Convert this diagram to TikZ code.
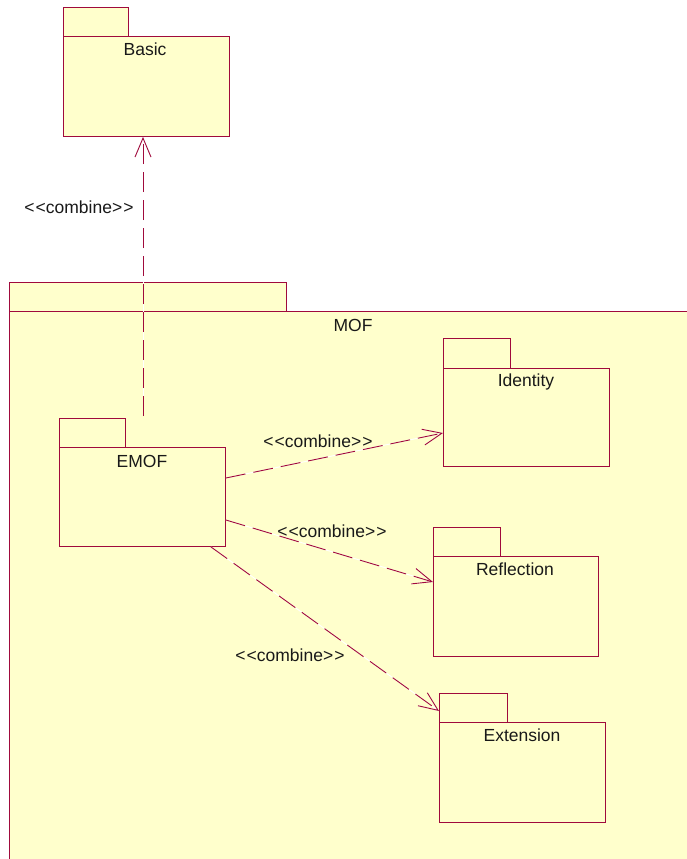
\documentclass[tikz,border=0pt]{standalone}
\usepackage{fontspec}
\setmainfont{Liberation Sans}
\usetikzlibrary{arrows.meta,calc}
\definecolor{pkline}{RGB}{160,10,60}
\definecolor{pkfill}{RGB}{255,255,204}
% stereotype text, with the guillemet ligature broken up
\newcommand{\stereo}[1]{<\kern1pt<#1>\kern1pt>}
\tikzset{
  pkg/.style={draw=pkline, fill=pkfill, line width=0.9pt, inner sep=0pt,
    anchor=north west, rectangle},
  lbl/.style={font=\fontsize{17.5}{20}\selectfont, inner sep=0pt, text=black!90},
  combine/.style={draw=pkline, line width=0.9pt, dash pattern=on 20pt off 8pt,
    preaction={draw=white, solid, line width=0.9pt},
    -{Straight Barb[length=19pt,width=16pt,line width=0.9pt]}},
}
\begin{document}
\begin{tikzpicture}[x=1pt,y=-1pt]
\clip (0,0) rectangle (687,859);
\fill[white] (0,0) rectangle (687,859);

% Basic package
\node[pkg, minimum width=65pt, minimum height=29pt] (basictab) at (63,7) {};
\node[pkg, minimum width=166pt, minimum height=100pt] (basic) at (63,36) {};
\node[lbl] (basiclbl) at (145,49) {Basic};

% MOF package (runs past the right and bottom edges)
\node[pkg, minimum width=277pt, minimum height=29pt] (moftab) at (9,282) {};
\node[pkg, minimum width=720pt, minimum height=600pt] (mof) at (9,311) {};
\node[lbl] (moflbl) at (353,325) {MOF};

% Identity
\node[pkg, minimum width=67pt, minimum height=30pt] (idtab) at (443,338) {};
\node[pkg, minimum width=166pt, minimum height=98pt] (identity) at (443,368) {};
\node[lbl] (idlbl) at (526,382) {Identity};

% EMOF
\node[pkg, minimum width=66pt, minimum height=29pt] (emoftab) at (59,418) {};
\node[pkg, minimum width=166pt, minimum height=99pt] (emof) at (59,447) {};
\node[lbl] (emoflbl) at (142,461) {EMOF};

% Reflection
\node[pkg, minimum width=67pt, minimum height=29pt] (reftab) at (433,527) {};
\node[pkg, minimum width=165pt, minimum height=100pt] (reflection) at (433,556) {};
\node[lbl] (reflbl) at (515,569) {Reflection};

% Extension
\node[pkg, minimum width=68pt, minimum height=29pt] (extab) at (439,693) {};
\node[pkg, minimum width=166pt, minimum height=100pt] (extension) at (439,722) {};
\node[lbl] (exlbl) at (522,735) {Extension};

% combine dependencies
\coordinate (emoftop) at ($(emoftab.north west)+(84,-2)$);
\draw[combine] (emoftop) -- ($(basic.south west)+(80,0)$);
\draw[combine] ($(emof.north east)+(0,31)$) -- ($(identity.north west)+(0,65)$);
\draw[combine] ($(emof.north east)+(0,73)$) -- ($(reflection.north west)+(0,26)$);
\draw[combine] ($(emof.south east)+(-15,0)$) -- ($(extab.north west)+(0,18)$);

\node[lbl] (c1) at (79,207) {\stereo{combine}};
\node[lbl] (c2) at (318,441) {\stereo{combine}};
\node[lbl] (c3) at (332,531) {\stereo{combine}};
\node[lbl] (c4) at (290,655) {\stereo{combine}};
\end{tikzpicture}
\end{document}
